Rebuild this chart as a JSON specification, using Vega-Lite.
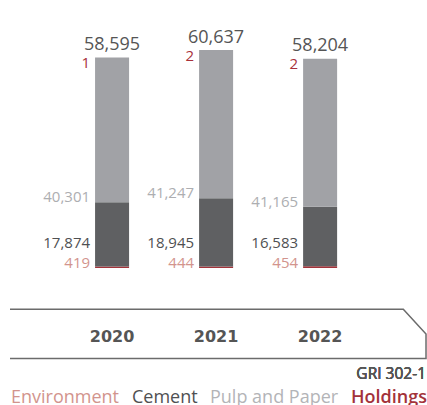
{
  "$schema": "https://vega.github.io/schema/vega-lite/v6.json",
  "width": 427,
  "height": 405,
  "autosize": "none",
  "padding": 0,
  "background": "white",
  "config": {"view": {"stroke": null}},
  "layer": [
    {
      "data": {"values": [
        {"year": "2020", "category": "Environment", "value": 419, "ord": 1},
        {"year": "2020", "category": "Cement", "value": 17874, "ord": 2},
        {"year": "2020", "category": "Pulp and Paper", "value": 40301, "ord": 3},
        {"year": "2020", "category": "Holdings", "value": 1, "ord": 4},
        {"year": "2021", "category": "Environment", "value": 444, "ord": 1},
        {"year": "2021", "category": "Cement", "value": 18945, "ord": 2},
        {"year": "2021", "category": "Pulp and Paper", "value": 41247, "ord": 3},
        {"year": "2021", "category": "Holdings", "value": 2, "ord": 4},
        {"year": "2022", "category": "Environment", "value": 454, "ord": 1},
        {"year": "2022", "category": "Cement", "value": 16583, "ord": 2},
        {"year": "2022", "category": "Pulp and Paper", "value": 41165, "ord": 3},
        {"year": "2022", "category": "Holdings", "value": 2, "ord": 4}
      ]},
      "encoding": {
        "x": {
          "field": "year", "type": "ordinal",
          "scale": {"paddingInner": 0.673, "paddingOuter": 0.889, "align": 0.514},
          "axis": {
            "title": null, "orient": "bottom", "offset": -64, "domain": false, "ticks": false, "tickSize": 0,
            "labelPadding": 0, "labelBaseline": "alphabetic", "labelAngle": 0,
            "labelFont": "DejaVu Sans", "labelFontWeight": "bold", "labelFontSize": 16, "labelColor": "#555555"
          }
        }
      },
      "layer": [
        {
          "mark": {"type": "bar"},
          "encoding": {
            "y": {"aggregate": "sum", "field": "value", "type": "quantitative", "stack": "zero",
                  "scale": {"domain": [-38113, 74558], "nice": false, "zero": false}, "axis": null},
            "color": {
              "field": "category", "type": "nominal",
              "scale": {"domain": ["Environment", "Cement", "Pulp and Paper", "Holdings"],
                        "range": ["#a3333a", "#5f6062", "#a1a2a6", "#a3333a"]},
              "legend": {
                "title": null, "orient": "none", "legendX": 10, "legendY": 389, "direction": "horizontal",
                "gridAlign": "none",
                "symbolSize": 0.01, "symbolStrokeWidth": 0, "symbolOpacity": 0, "labelOffset": -17, "columnPadding": 11,
                "padding": 0, "labelFont": "Open Sans", "labelFontSize": 18, "labelLimit": 300,
                "encode": {"labels": {"update": {
                  "fill": {"signal": "datum.value === 'Environment' ? '#d2948d' : datum.value === 'Cement' ? '#4f5052' : datum.value === 'Pulp and Paper' ? '#b3b4b7' : '#a3323a'"},
                  "fontWeight": {"signal": "datum.value === 'Holdings' ? 600 : 400"}
                }}}
              }
            },
            "order": {"field": "ord", "type": "quantitative"}
          }
        },
        {
          "data": {"values": [
            {"year": "2020", "total": 58595},
            {"year": "2021", "total": 60637},
            {"year": "2022", "total": 58204}
          ]},
          "mark": {"type": "text", "baseline": "alphabetic", "align": "center", "dy": -7.5, "font": "Open Sans", "fontSize": 18, "color": "#555555"},
          "encoding": {
            "y": {"field": "total", "type": "quantitative"},
            "text": {"field": "total", "type": "quantitative", "format": ","}
          }
        },
        {
          "transform": [
            {"joinaggregate": [{"op": "sum", "field": "value", "as": "total"}], "groupby": ["year"]},
            {"filter": "datum.category === 'Holdings'"}
          ],
          "mark": {"type": "text", "baseline": "alphabetic", "align": "right", "dx": -5, "dy": 10.5, "font": "Open Sans", "fontSize": 15, "color": "#a8303a"},
          "encoding": {
            "x": {"field": "year", "type": "ordinal", "bandPosition": 0},
            "y": {"field": "total", "type": "quantitative"},
            "text": {"field": "value", "type": "quantitative", "format": ","}
          }
        },
        {
          "transform": [
            {"stack": "value", "groupby": ["year"], "sort": [{"field": "ord", "order": "ascending"}], "as": ["y0", "y1"]},
            {"filter": "datum.category === 'Pulp and Paper'"}
          ],
          "mark": {"type": "text", "baseline": "alphabetic", "align": "right", "dx": -5, "dy": 0, "font": "Open Sans", "fontSize": 15, "color": "#adaeb1"},
          "encoding": {
            "x": {"field": "year", "type": "ordinal", "bandPosition": 0},
            "y": {"field": "y0", "type": "quantitative"},
            "text": {"field": "value", "type": "quantitative", "format": ","}
          }
        },
        {
          "transform": [{"filter": "datum.category === 'Cement'"}],
          "mark": {"type": "text", "baseline": "alphabetic", "align": "right", "dx": -5, "dy": -20, "font": "Open Sans", "fontSize": 15, "color": "#4f5052"},
          "encoding": {
            "x": {"field": "year", "type": "ordinal", "bandPosition": 0},
            "y": {"datum": 0, "type": "quantitative"},
            "text": {"field": "value", "type": "quantitative", "format": ","}
          }
        },
        {
          "transform": [{"filter": "datum.category === 'Environment'"}],
          "mark": {"type": "text", "baseline": "alphabetic", "align": "right", "dx": -5, "dy": 0, "font": "Open Sans", "fontSize": 15, "color": "#d2948d"},
          "encoding": {
            "x": {"field": "year", "type": "ordinal", "bandPosition": 0},
            "y": {"datum": 0, "type": "quantitative"},
            "text": {"field": "value", "type": "quantitative", "format": ","}
          }
        }
      ]
    },
    {
      "data": {"values": [
        {"fx": 0.0234, "fy": -11490, "i": 1},
        {"fx": 0.9445, "fy": -11490, "i": 2},
        {"fx": 0.9977, "fy": -18360, "i": 3},
        {"fx": 0.9977, "fy": -25175, "i": 4},
        {"fx": 0.0234, "fy": -25175, "i": 5}
      ]},
      "layer": [
        {
          "mark": {"type": "line", "color": "#6b6b6b", "strokeWidth": 1.5, "strokeJoin": "miter"},
          "encoding": {
            "x": {"field": "fx", "type": "quantitative", "scale": {"domain": [0, 1], "nice": false, "zero": false}, "axis": null},
            "y": {"field": "fy", "type": "quantitative", "scale": {"domain": [-38113, 74558], "nice": false, "zero": false}, "axis": null},
            "order": {"field": "i", "type": "quantitative"}
          }
        },
        {
          "mark": {"type": "text", "text": "GRI 302-1", "align": "right", "baseline": "alphabetic", "dx": -1, "font": "Open Sans", "fontSize": 15.5, "fontWeight": 400, "color": "#555555"},
          "encoding": {
            "x": {"datum": 1, "type": "quantitative"},
            "y": {"datum": -30964, "type": "quantitative"}
          }
        }
      ]
    }
  ],
  "resolve": {"scale": {"x": "independent"}}
}
